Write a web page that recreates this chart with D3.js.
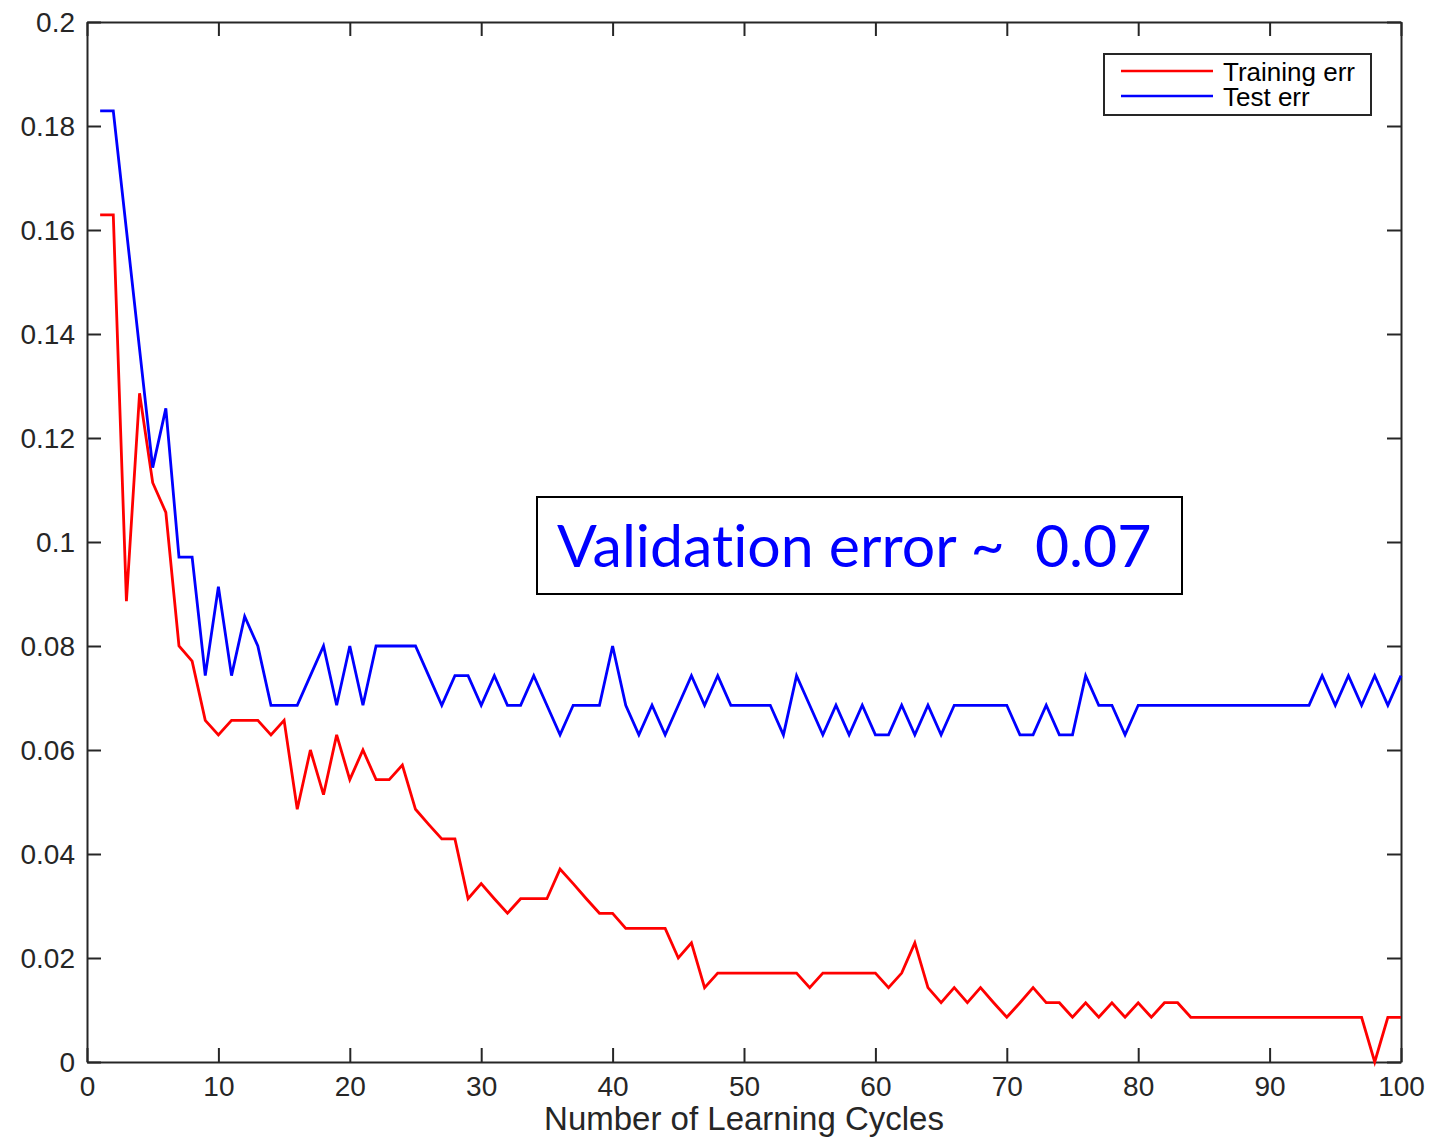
<!DOCTYPE html>
<html>
<head>
<meta charset="UTF-8">
<title>Learning cycles</title>
<style>
  body { margin: 0; background: #fff; }
</style>
</head>
<body>
<script src="https://cdn.jsdelivr.net/npm/d3@7"></script>
<script>

    // data
    var cycles = d3.range(1, 101);

    var trainErr = [
        0.1629, 0.1629, 0.0886, 0.1286, 0.1114, 0.1057, 0.0800, 0.0771, 0.0657, 0.0629,
        0.0657, 0.0657, 0.0657, 0.0629, 0.0657, 0.0486, 0.0600, 0.0514, 0.0629, 0.0543,
        0.0600, 0.0543, 0.0543, 0.0571, 0.0486, 0.0457, 0.0429, 0.0429, 0.0314, 0.0343,
        0.0314, 0.0286, 0.0314, 0.0314, 0.0314, 0.0371, 0.0343, 0.0314, 0.0286, 0.0286,
        0.0257, 0.0257, 0.0257, 0.0257, 0.0200, 0.0229, 0.0143, 0.0171, 0.0171, 0.0171,
        0.0171, 0.0171, 0.0171, 0.0171, 0.0143, 0.0171, 0.0171, 0.0171, 0.0171, 0.0171,
        0.0143, 0.0171, 0.0229, 0.0143, 0.0114, 0.0143, 0.0114, 0.0143, 0.0114, 0.0086,
        0.0114, 0.0143, 0.0114, 0.0114, 0.0086, 0.0114, 0.0086, 0.0114, 0.0086, 0.0114,
        0.0086, 0.0114, 0.0114, 0.0086, 0.0086, 0.0086, 0.0086, 0.0086, 0.0086, 0.0086,
        0.0086, 0.0086, 0.0086, 0.0086, 0.0086, 0.0086, 0.0086, 0.0000, 0.0086, 0.0086
    ];

    var testErr = [
        0.1829, 0.1829, 0.1600, 0.1371, 0.1143, 0.1257, 0.0971, 0.0971, 0.0743, 0.0914,
        0.0743, 0.0857, 0.0800, 0.0686, 0.0686, 0.0686, 0.0743, 0.0800, 0.0686, 0.0800,
        0.0686, 0.0800, 0.0800, 0.0800, 0.0800, 0.0743, 0.0686, 0.0743, 0.0743, 0.0686,
        0.0743, 0.0686, 0.0686, 0.0743, 0.0686, 0.0629, 0.0686, 0.0686, 0.0686, 0.0800,
        0.0686, 0.0629, 0.0686, 0.0629, 0.0686, 0.0743, 0.0686, 0.0743, 0.0686, 0.0686,
        0.0686, 0.0686, 0.0629, 0.0743, 0.0686, 0.0629, 0.0686, 0.0629, 0.0686, 0.0629,
        0.0629, 0.0686, 0.0629, 0.0686, 0.0629, 0.0686, 0.0686, 0.0686, 0.0686, 0.0686,
        0.0629, 0.0629, 0.0686, 0.0629, 0.0629, 0.0743, 0.0686, 0.0686, 0.0629, 0.0686,
        0.0686, 0.0686, 0.0686, 0.0686, 0.0686, 0.0686, 0.0686, 0.0686, 0.0686, 0.0686,
        0.0686, 0.0686, 0.0686, 0.0743, 0.0686, 0.0743, 0.0686, 0.0743, 0.0686, 0.0743
    ];

    var xTicks = [0, 10, 20, 30, 40, 50, 60, 70, 80, 90, 100];
    var yTicks = [0, 0.02, 0.04, 0.06, 0.08, 0.1, 0.12, 0.14, 0.16, 0.18, 0.2];
    var seriesNames = ['Training err', 'Test err'];
    var seriesColors = ['#ff0000', '#0000ff'];
    var note = 'Validation error ~  0.07';

    var W = 1431, H = 1138;
    var pLeft = 87, pRight = 1401, pTop = 22, pBottom = 1062;
    var tickLen = 14;
    var axisColor = '#262626';
    var font = '"Liberation Sans", Arial, sans-serif';

    var svg = d3.select('body')
            .append('svg')
            .attr('width', W)
            .attr('height', H);

    var x = d3.scaleLinear().domain([0, 100]).range([pLeft, pRight]);
    var y = d3.scaleLinear().domain([0, 0.2]).range([pBottom, pTop]);

    var fmt = function(d) { return d === 0 ? '0' : String(+d.toFixed(2)); };

    // axes (ticks pointing inward on all four sides)
    var gx = svg.append('g').attr('transform', 'translate(0,' + pBottom + ')')
            .call(d3.axisBottom(x).tickValues(xTicks).tickSizeInner(-tickLen).tickSizeOuter(0).tickPadding(12).tickFormat(fmt));
    var gxTop = svg.append('g').attr('transform', 'translate(0,' + pTop + ')')
            .call(d3.axisTop(x).tickValues(xTicks).tickSizeInner(-tickLen).tickSizeOuter(0).tickFormat(''));
    var gy = svg.append('g').attr('transform', 'translate(' + pLeft + ',0)')
            .call(d3.axisLeft(y).tickValues(yTicks).tickSizeInner(-tickLen).tickSizeOuter(0).tickPadding(12).tickFormat(fmt));
    var gyRight = svg.append('g').attr('transform', 'translate(' + pRight + ',0)')
            .call(d3.axisRight(y).tickValues(yTicks).tickSizeInner(-tickLen).tickSizeOuter(0).tickFormat(''));

    [gx, gxTop, gy, gyRight].forEach(function(g) {
        g.selectAll('path').attr('stroke', axisColor).attr('stroke-width', 2);
        g.selectAll('line').attr('stroke', axisColor).attr('stroke-width', 2);
        g.selectAll('text')
                .attr('font-size', 28)
                .attr('font-family', font)
                .attr('fill', axisColor);
    });

    gx.selectAll('text').attr('dy', '0.8em');
    gy.selectAll('text').attr('dy', '0.35em');

    // data lines
    var line = d3.line()
            .x(function(d) { return x(d[0]); })
            .y(function(d) { return y(d[1]); });

    [trainErr, testErr].forEach(function(vals, k) {
        svg.append('path')
                .datum(cycles.map(function(c, i) { return [c, vals[i]]; }))
                .attr('d', line)
                .attr('fill', 'none')
                .attr('stroke', seriesColors[k])
                .attr('stroke-width', 2.8);
    });

    // x label
    svg.append('text')
            .attr('x', 744)
            .attr('y', 1130)
            .attr('text-anchor', 'middle')
            .attr('font-family', font)
            .attr('font-size', 33)
            .attr('fill', axisColor)
            .text('Number of Learning Cycles');

    // legend
    var leg = svg.append('g');
    leg.append('rect')
            .attr('x', 1104).attr('y', 54)
            .attr('width', 267).attr('height', 61)
            .attr('fill', '#fff')
            .attr('stroke', axisColor)
            .attr('stroke-width', 2);
    seriesNames.forEach(function(name, k) {
        var ly = 71 + k * 25;
        leg.append('line')
                .attr('x1', 1121).attr('x2', 1213)
                .attr('y1', ly).attr('y2', ly)
                .attr('stroke', seriesColors[k])
                .attr('stroke-width', 2.5);
        leg.append('text')
                .attr('x', 1223)
                .attr('y', ly + 10)
                .attr('font-family', font)
                .attr('font-size', 26)
                .attr('fill', '#000')
                .text(name);
    });

    // annotation box
    svg.append('rect')
            .attr('x', 537).attr('y', 497)
            .attr('width', 645).attr('height', 97)
            .attr('fill', '#fff')
            .attr('stroke', '#000')
            .attr('stroke-width', 2);
    svg.append('text')
            .attr('x', 557)
            .attr('y', 567)
            .attr('font-family', 'Lato, "Open Sans", sans-serif')
            .attr('font-size', 59)
            .attr('fill', '#0000ff')
            .attr('xml:space', 'preserve')
            .style('white-space', 'pre')
            .style('font-variant-ligatures', 'none')
            .style('font-feature-settings', '"liga" 0, "clig" 0')
            .text(note);

</script>
</body>
</html>
